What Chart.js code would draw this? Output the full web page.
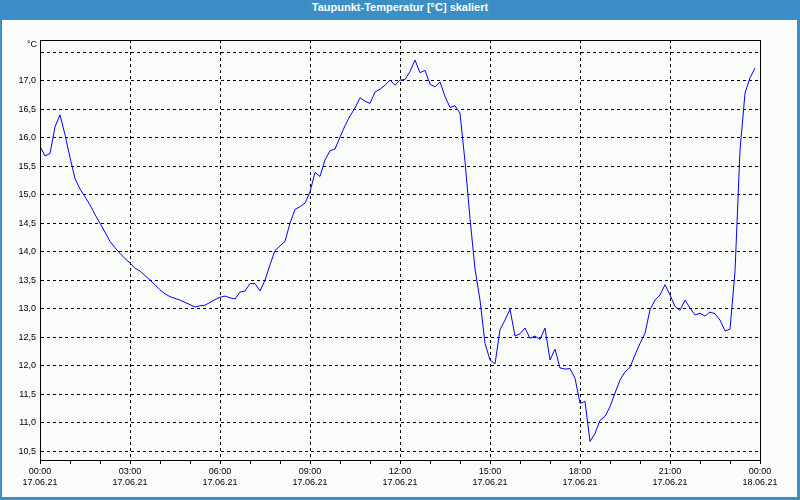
<!DOCTYPE html>
<html><head><meta charset="utf-8">
<script src="https://cdn.jsdelivr.net/npm/chart.js@4/dist/chart.umd.min.js"></script>
<style>
html,body{margin:0;padding:0;background:#fff;}
#frame{position:relative;width:800px;height:500px;background:#3c8fc6;overflow:hidden;}
#title{position:absolute;left:0;top:1px;width:800px;height:20px;line-height:18px;text-align:center;color:#fff;font:bold 11px "Liberation Sans",Arial,sans-serif;}
#inner{position:absolute;left:2px;top:20px;width:795px;height:477px;background:#f9fcf9;}
#holder{position:absolute;left:0;top:0;width:800px;height:500px;}
</style></head><body>
<div id="frame">
  <div id="title">Taupunkt-Temperatur [°C] skaliert</div>
  <div id="inner"></div>
  <div id="holder"><canvas id="c" width="800" height="500"></canvas></div>
</div>
<script>
// Dew point temperature [°C], one sample every 10 minutes from 17.06.21 00:00
const sampleStepMinutes = 10;
const dewPoint = [
  15.85,15.68,15.72,16.19,16.40,16.05,15.65,15.28,15.10,14.96,
  14.82,14.65,14.50,14.34,14.18,14.07,13.97,13.88,13.80,13.71,
  13.66,13.58,13.50,13.42,13.33,13.26,13.21,13.18,13.15,13.11,
  13.07,13.03,13.05,13.06,13.11,13.16,13.20,13.22,13.19,13.17,
  13.29,13.31,13.44,13.44,13.31,13.50,13.77,14.02,14.10,14.18,
  14.50,14.74,14.79,14.85,15.05,15.39,15.32,15.61,15.77,15.80,
  16.01,16.21,16.38,16.52,16.70,16.64,16.60,16.80,16.85,16.92,
  17.01,16.92,17.01,17.02,17.16,17.36,17.14,17.18,16.94,16.89,
  16.98,16.72,16.53,16.56,16.43,15.58,14.58,13.70,13.15,12.39,
  12.10,12.03,12.63,12.80,12.99,12.52,12.56,12.66,12.48,12.52,
  12.46,12.66,12.10,12.29,11.96,11.94,11.95,11.78,11.34,11.37,
  10.67,10.81,11.04,11.11,11.28,11.52,11.75,11.89,11.97,12.19,
  12.39,12.57,12.98,13.15,13.24,13.42,13.24,13.04,12.97,13.15,
  13.01,12.89,12.92,12.87,12.94,12.91,12.80,12.61,12.64,13.65,
  15.78,16.78,17.05,17.22
];
const xTickTimes = ['00:00','03:00','06:00','09:00','12:00','15:00','18:00','21:00','00:00'];
const xTickDates = ['17.06.21','17.06.21','17.06.21','17.06.21','17.06.21','17.06.21','17.06.21','17.06.21','18.06.21'];
const yTickValues = [10.5,11.0,11.5,12.0,12.5,13.0,13.5,14.0,14.5,15.0,15.5,16.0,16.5,17.0,17.5];
const yUnit = '°C';

const points = dewPoint.map((v,i)=>({x:i*sampleStepMinutes, y:v}));
const FONT = {family:'"Liberation Sans", Arial, sans-serif', size:9};

const framePlugin = {
  id:'framePlugin',
  afterDraw(chart){
    const {ctx, chartArea:a} = chart;
    ctx.save();
    ctx.strokeStyle = '#000';
    ctx.lineWidth = 1;
    ctx.setLineDash([]);
    ctx.strokeRect(Math.round(a.left)+0.5, Math.round(a.top)+0.5, Math.round(a.right-a.left), Math.round(a.bottom-a.top));
    ctx.fillStyle = '#000';
    ctx.font = '9px "Liberation Sans", Arial, sans-serif';
    ctx.textAlign = 'right';
    ctx.textBaseline = 'middle';
    ctx.fillText(yUnit, a.left-3, a.top+5);
    ctx.restore();
  }
};

new Chart(document.getElementById('c'), {
  type:'line',
  data:{datasets:[{
    data:points, borderColor:'#0000ff', borderWidth:1, pointRadius:0, tension:0, fill:false
  }]},
  options:{
    responsive:false, animation:false, devicePixelRatio:1,
    layout:{padding:{left:0, top:40, right:40, bottom:0}},
    plugins:{legend:{display:false}, tooltip:{enabled:false}, title:{display:false}},
    scales:{
      x:{
        type:'linear', min:0, max:1440,
        afterBuildTicks(scale){ const t=[]; for(let m=0;m<=1440;m+=60) t.push({value:m}); scale.ticks=t; },
        afterFit(scale){ scale.height = 40; },
        ticks:{
          autoSkip:false, maxRotation:0, minRotation:0, padding:2, color:'#000', font:FONT,
          callback(v){ if (v%180!==0) return ''; const k=v/180; return [xTickTimes[k], xTickDates[k]]; }
        },
        grid:{
          color:(c)=> (c.tick && c.tick.value%180===0) ? '#000' : 'rgba(0,0,0,0)',
          lineWidth:1, tickColor:'#000', tickLength:4, drawTicks:true
        },
        border:{display:true, color:'#000', width:1, dash:[3,3]}
      },
      y:{
        type:'linear', min:10.345, max:17.713,
        afterBuildTicks(scale){ scale.ticks = yTickValues.map(v=>({value:v})); },
        afterFit(scale){ scale.width = 40; },
        ticks:{
          padding:4, color:'#000', font:FONT,
          callback(v){ return v===17.5 ? '' : v.toFixed(1).replace('.',','); }
        },
        grid:{color:'#000', lineWidth:1, drawTicks:false},
        border:{display:true, color:'#000', width:1, dash:[3,3]}
      }
    }
  },
  plugins:[framePlugin]
});
</script>
</body></html>
